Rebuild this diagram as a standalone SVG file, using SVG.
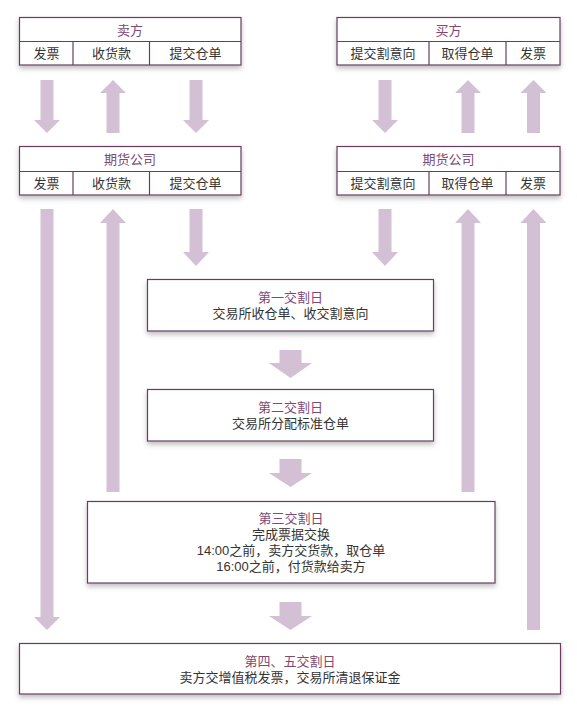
<svg xmlns="http://www.w3.org/2000/svg" width="577" height="707" viewBox="0 0 577 707">
<style>
.box{fill:#ffffff;stroke:#6a3d5f;stroke-width:1.2;filter:url(#sh)}
.ln{stroke:#6a3d5f;stroke-width:1.2;fill:none}
.arr{fill:#d4c0d4}
text{font-family:"Liberation Sans","Noto Sans CJK SC",sans-serif;font-size:13px;text-anchor:middle;dominant-baseline:central}
.t{fill:#7c4a73}
.b{fill:#333333}
</style>
<defs>
<filter id="sh" x="-10%" y="-20%" width="120%" height="150%">
<feDropShadow dx="0" dy="3" stdDeviation="2.5" flood-color="#000" flood-opacity="0.25"/>
</filter>
</defs>
<g id="connectors">
<!-- seller top row -->
<polygon class="arr" points="40.5,80 53.5,80 53.5,120 60,120 47,133 34,120 40.5,120"/>
<polygon class="arr" points="113,80 126,93 119.5,93 119.5,133 106.5,133 106.5,93 100,93"/>
<polygon class="arr" points="189.5,80 202.5,80 202.5,120 209,120 196,133 183,120 189.5,120"/>
<!-- buyer top row -->
<polygon class="arr" points="378.5,80 391.5,80 391.5,120 398,120 385,133 372,120 378.5,120"/>
<polygon class="arr" points="468,80 481,93 474.5,93 474.5,133 461.5,133 461.5,93 455,93"/>
<polygon class="arr" points="533.5,80 546.5,93 540,93 540,133 527,133 527,93 520.5,93"/>
<!-- second row -->
<polygon class="arr" points="40.5,209 53.5,209 53.5,617 60,617 47,630 34,617 40.5,617"/>
<polygon class="arr" points="113,209 126,223 119.5,223 119.5,492 106.5,492 106.5,223 100,223"/>
<polygon class="arr" points="189.5,209 202.5,209 202.5,252 209,252 196,266 183,252 189.5,252"/>
<polygon class="arr" points="378.5,209 391.5,209 391.5,252 398,252 385,266 372,252 378.5,252"/>
<polygon class="arr" points="468,209 481,223 474.5,223 474.5,492 461.5,492 461.5,223 455,223"/>
<polygon class="arr" points="533.5,209 546.5,223 540,223 540,630 527,630 527,223 520.5,223"/>
<!-- middle arrows -->
<polygon class="arr" points="279.5,350 301.5,350 301.5,363 312,363 290.5,378 269,363 279.5,363"/>
<polygon class="arr" points="279.5,459 301.5,459 301.5,473 312,473 290.5,487 269,473 279.5,473"/>
<polygon class="arr" points="279.5,602 301.5,602 301.5,616 312,616 290.5,630 269,616 279.5,616"/>
</g>
<g id="seller">
<rect class="box" x="19.5" y="17.5" width="221.5" height="47.5"/>
<line class="ln" x1="19.5" y1="41.5" x2="241" y2="41.5"/>
<line class="ln" x1="73" y1="41.5" x2="73" y2="65"/>
<line class="ln" x1="149.5" y1="41.5" x2="149.5" y2="65"/>
<text class="t" x="130" y="30">卖方</text>
<text class="b" x="46.5" y="53.5">发票</text>
<text class="b" x="111.5" y="53.5">收货款</text>
<text class="b" x="195.5" y="53.5">提交仓单</text>
</g>
<g id="buyer">
<rect class="box" x="337" y="17.5" width="223" height="47.5"/>
<line class="ln" x1="337" y1="41.5" x2="560" y2="41.5"/>
<line class="ln" x1="429" y1="41.5" x2="429" y2="65"/>
<line class="ln" x1="506" y1="41.5" x2="506" y2="65"/>
<text class="t" x="448.5" y="30">买方</text>
<text class="b" x="383" y="53.5">提交割意向</text>
<text class="b" x="467.5" y="53.5">取得仓单</text>
<text class="b" x="533" y="53.5">发票</text>
</g>
<g id="seller-broker">
<rect class="box" x="19.5" y="146.5" width="221.5" height="48.5"/>
<line class="ln" x1="19.5" y1="171.5" x2="241" y2="171.5"/>
<line class="ln" x1="73" y1="171.5" x2="73" y2="195"/>
<line class="ln" x1="149.5" y1="171.5" x2="149.5" y2="195"/>
<text class="t" x="130" y="159.5">期货公司</text>
<text class="b" x="46.5" y="183.5">发票</text>
<text class="b" x="111.5" y="183.5">收货款</text>
<text class="b" x="195.5" y="183.5">提交仓单</text>
</g>
<g id="buyer-broker">
<rect class="box" x="337" y="146.5" width="223" height="48.5"/>
<line class="ln" x1="337" y1="171.5" x2="560" y2="171.5"/>
<line class="ln" x1="429" y1="171.5" x2="429" y2="195"/>
<line class="ln" x1="506" y1="171.5" x2="506" y2="195"/>
<text class="t" x="448.5" y="159.5">期货公司</text>
<text class="b" x="383" y="183.5">提交割意向</text>
<text class="b" x="467.5" y="183.5">取得仓单</text>
<text class="b" x="533" y="183.5">发票</text>
</g>
<g id="day1">
<rect class="box" x="147.5" y="279.5" width="286" height="51.5"/>
<text class="t" x="290.5" y="297">第一交割日</text>
<text class="b" x="290.5" y="313">交易所收仓单、收交割意向</text>
</g>
<g id="day2">
<rect class="box" x="147.5" y="389.5" width="286" height="51.5"/>
<text class="t" x="290.5" y="407">第二交割日</text>
<text class="b" x="290.5" y="423">交易所分配标准仓单</text>
</g>
<g id="day3">
<rect class="box" x="87.5" y="501.5" width="407.5" height="81.5"/>
<text class="t" x="291" y="518">第三交割日</text>
<text class="b" x="291" y="534">完成票据交换</text>
<text class="b" x="291" y="550">14:00之前，卖方交货款，取仓单</text>
<text class="b" x="291" y="566">16:00之前，付货款给卖方</text>
</g>
<g id="day45">
<rect class="box" x="19.5" y="643.5" width="541" height="50.5"/>
<text class="t" x="290" y="661">第四、五交割日</text>
<text class="b" x="290" y="677">卖方交增值税发票，交易所清退保证金</text>
</g>
</svg>
